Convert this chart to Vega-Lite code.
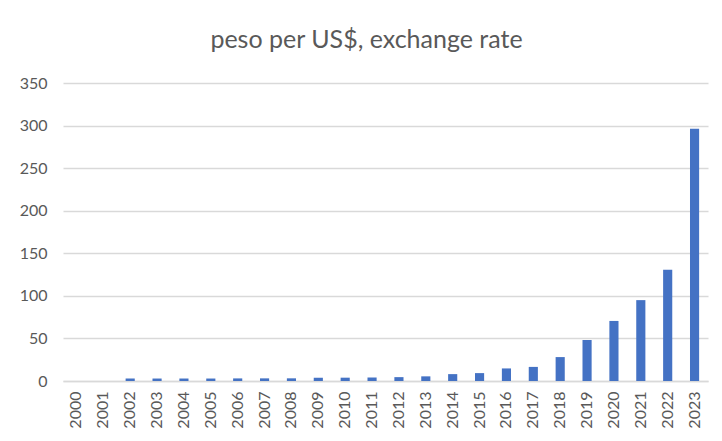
{
  "$schema": "https://vega.github.io/schema/vega-lite/v6.json",
  "autosize": {"type": "none"},
  "width": 645,
  "height": 298,
  "padding": {"left": 63, "top": 83, "right": 14, "bottom": 60},
  "background": "white",
  "title": {
    "text": "peso per US$, exchange rate",
    "font": "Lato",
    "fontSize": 25,
    "fontWeight": "normal",
    "color": "#595959",
    "anchor": "middle",
    "frame": "group",
    "dx": -19,
    "offset": 22
  },
  "data": {
    "values": [
      {"year": "2000", "rate": null},
      {"year": "2001", "rate": null},
      {"year": "2002", "rate": 3.06},
      {"year": "2003", "rate": 2.9},
      {"year": "2004", "rate": 2.92},
      {"year": "2005", "rate": 2.9},
      {"year": "2006", "rate": 3.05},
      {"year": "2007", "rate": 3.1},
      {"year": "2008", "rate": 3.14},
      {"year": "2009", "rate": 3.71},
      {"year": "2010", "rate": 3.9},
      {"year": "2011", "rate": 4.11},
      {"year": "2012", "rate": 4.54},
      {"year": "2013", "rate": 5.46},
      {"year": "2014", "rate": 8.08},
      {"year": "2015", "rate": 9.27},
      {"year": "2016", "rate": 14.76},
      {"year": "2017", "rate": 16.56},
      {"year": "2018", "rate": 28.09},
      {"year": "2019", "rate": 48.15},
      {"year": "2020", "rate": 70.54},
      {"year": "2021", "rate": 94.99},
      {"year": "2022", "rate": 130.79},
      {"year": "2023", "rate": 296.27}
    ]
  },
  "mark": {"type": "bar", "color": "#4472C4"},
  "encoding": {
    "x": {
      "field": "year",
      "type": "ordinal",
      "scale": {
        "domain": ["2000", "2001", "2002", "2003", "2004", "2005", "2006", "2007", "2008", "2009", "2010", "2011", "2012", "2013", "2014", "2015", "2016", "2017", "2018", "2019", "2020", "2021", "2022", "2023"],
        "paddingInner": 0.66,
        "paddingOuter": 0.33
      },
      "axis": {
        "title": null,
        "labelAngle": -90,
        "labelFont": "Lato",
        "labelFontSize": 16,
        "labelColor": "#595959",
        "labelPadding": 10,
        "ticks": false,
        "domainColor": "#D9D9D9",
        "domainWidth": 1.3
      }
    },
    "y": {
      "field": "rate",
      "type": "quantitative",
      "scale": {"domain": [0, 350], "nice": false},
      "axis": {
        "title": null,
        "values": [0, 50, 100, 150, 200, 250, 300, 350],
        "labelFont": "Lato",
        "labelFontSize": 16,
        "labelColor": "#595959",
        "labelPadding": 16,
        "ticks": false,
        "domain": false,
        "gridColor": "#D9D9D9",
        "gridWidth": 1.3
      }
    }
  },
  "config": {"view": {"stroke": null}}
}
